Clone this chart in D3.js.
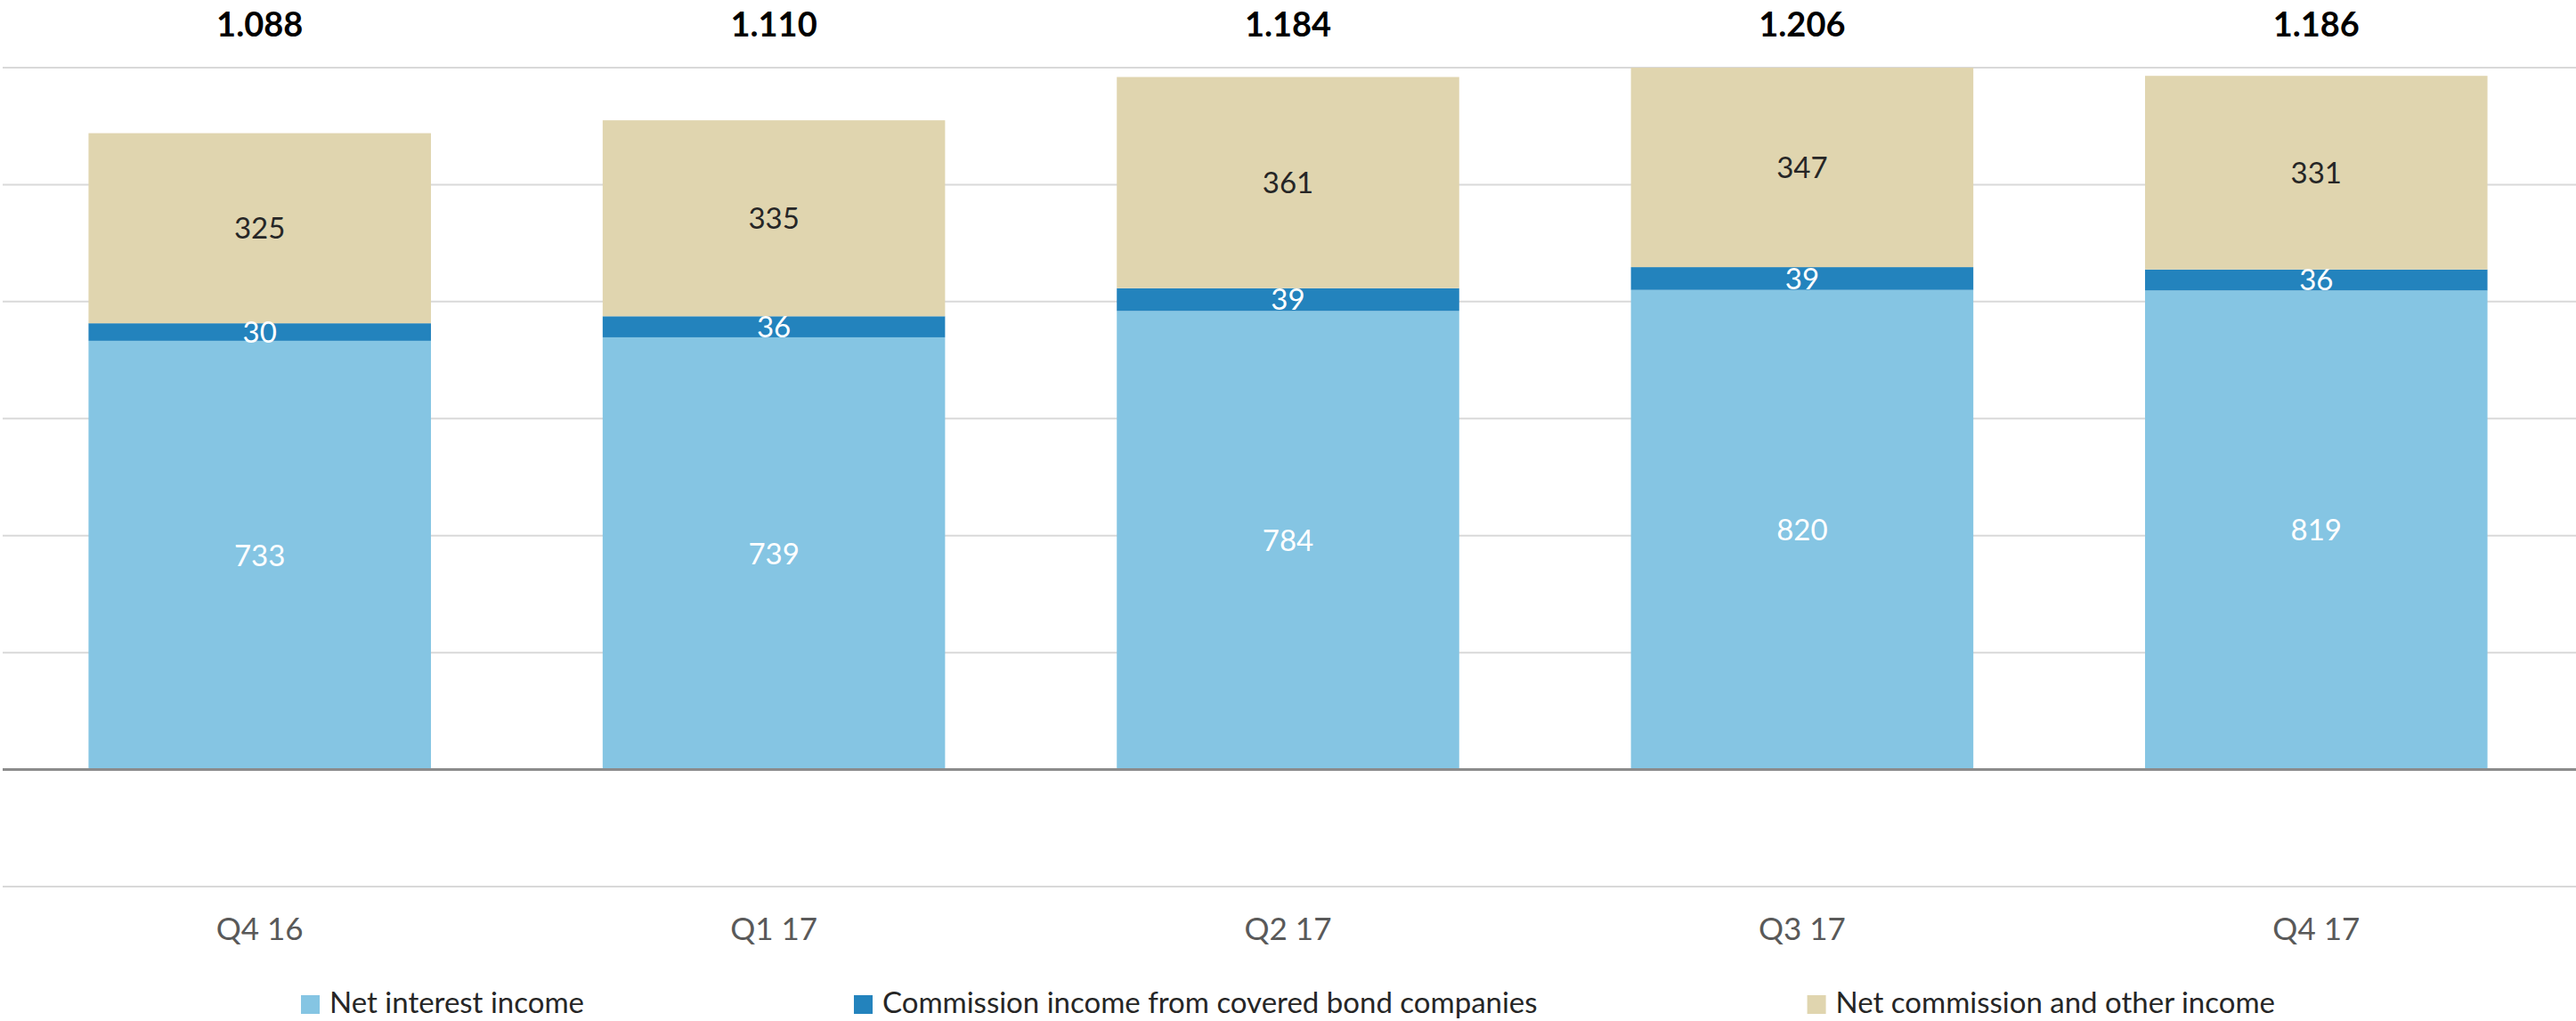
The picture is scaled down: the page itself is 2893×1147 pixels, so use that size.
<!DOCTYPE html>
<html>
<head>
<meta charset="utf-8">
<script src="https://cdn.jsdelivr.net/npm/d3@7"></script>
<style>
  body { margin: 0; background: #fff; }
  text { font-family: Lato, "Open Sans", sans-serif; }
</style>
</head>
<body>
<script>
// data
var quarters = ["Q4 16", "Q1 17", "Q2 17", "Q3 17", "Q4 17"];
var netInterest = [733, 739, 784, 820, 819];
var coveredBond = [30, 36, 39, 39, 36];
var netCommission = [325, 335, 361, 347, 331];
var seriesNames = ["Net interest income", "Commission income from covered bond companies", "Net commission and other income"];
var seriesColors = ["#85c5e3", "#2383bd", "#e0d5af"];
var labelColors = ["#ffffff", "#ffffff", "#262626"];
var yTicks = [-200, 0, 200, 400, 600, 800, 1000, 1200];

var width = 2893, height = 1147;

// norwegian style thousand separator, 1.088
var nf = d3.formatLocale({decimal: ",", thousands: ".", grouping: [3], currency: ["", ""]}).format(",d");

var rows = quarters.map(function(q, i) {
  return {q: q, a: netInterest[i], b: coveredBond[i], c: netCommission[i]};
});

var x = d3.scaleBand()
    .domain(quarters)
    .range([3, 2890])
    .paddingInner(0.334)
    .paddingOuter(0.167);
var y = d3.scaleLinear()
    .domain([-200, 1200])
    .range([996, 76]);

var svg = d3.select("body").append("svg")
    .attr("width", width)
    .attr("height", height);

svg.append("clipPath").attr("id", "plot")
  .append("rect")
    .attr("x", 0).attr("y", y(1200))
    .attr("width", width).attr("height", y(-200) - y(1200));

// gridlines
svg.append("g").selectAll("line")
    .data(yTicks.filter(function(d) { return d != 0; }))
  .enter().append("line")
    .attr("x1", 3).attr("x2", width)
    .attr("y1", function(d) { return y(d); })
    .attr("y2", function(d) { return y(d); })
    .attr("stroke", "#d9d9d9")
    .attr("stroke-width", 2);

// stacked bars
var stack = d3.stack().keys(["a", "b", "c"]);
var layers = stack(rows);

var g = svg.append("g").attr("clip-path", "url(#plot)");
g.selectAll(".layer")
    .data(layers)
  .enter().append("g")
    .attr("fill", function(d, i) { return seriesColors[i]; })
  .selectAll("rect")
    .data(function(d) { return d; })
  .enter().append("rect")
    .attr("x", function(d) { return x(d.data.q); })
    .attr("width", x.bandwidth())
    .attr("y", function(d) { return y(d[1]); })
    .attr("height", function(d) { return y(d[0]) - y(d[1]); });

// zero axis line
svg.append("line")
    .attr("x1", 3).attr("x2", width)
    .attr("y1", y(0)).attr("y2", y(0))
    .attr("stroke", "#8c8c8c")
    .attr("stroke-width", 3);

// segment labels
layers.forEach(function(layer, i) {
  svg.append("g").selectAll("text")
      .data(layer)
    .enter().append("text")
      .attr("x", function(d) { return x(d.data.q) + x.bandwidth() / 2; })
      .attr("y", function(d) { return (y(d[0]) + y(Math.min(d[1], 1200))) / 2; })
      .attr("dy", "0.36em")
      .attr("text-anchor", "middle")
      .attr("fill", labelColors[i])
      .style("font-size", "33px")
      .text(function(d) { return d[1] - d[0]; });
});

// totals above
svg.append("g").selectAll("text")
    .data(rows)
  .enter().append("text")
    .attr("x", function(d) { return x(d.q) + x.bandwidth() / 2; })
    .attr("y", 27)
    .attr("dy", "0.36em")
    .attr("text-anchor", "middle")
    .attr("fill", "#000")
    .style("font-size", "38px")
    .style("font-weight", "bold")
    .text(function(d) { return nf(d.a + d.b + d.c); });

// x axis labels
var xAxis = svg.append("g")
    .attr("transform", "translate(0,1043)")
    .call(d3.axisBottom(x).tickSize(0).tickPadding(0));
xAxis.select(".domain").remove();
xAxis.selectAll("text")
    .attr("dy", "0.36em")
    .attr("fill", "#595959")
    .style("font-size", "35px")
    .style("font-family", "Lato, sans-serif");

// legend
var legend = svg.append("g").attr("transform", "translate(0,1126)");
var items = legend.selectAll("g")
    .data(seriesNames)
  .enter().append("g");
items.append("rect")
    .attr("width", 21).attr("height", 21)
    .attr("y", -8)
    .attr("fill", function(d, i) { return seriesColors[i]; });
items.append("text")
    .attr("x", 32)
    .attr("dy", "0.36em")
    .attr("fill", "#262626")
    .style("font-size", "33px")
    .text(function(d) { return d; });

var pos = [], cur = 0;
items.each(function() {
  pos.push(cur);
  cur += 32 + this.querySelector("text").getComputedTextLength() + 303;
});
var total = cur - 303;
var start = (width - total) / 2;
items.attr("transform", function(d, i) { return "translate(" + (start + pos[i]) + ",0)"; });
</script>
</body>
</html>
